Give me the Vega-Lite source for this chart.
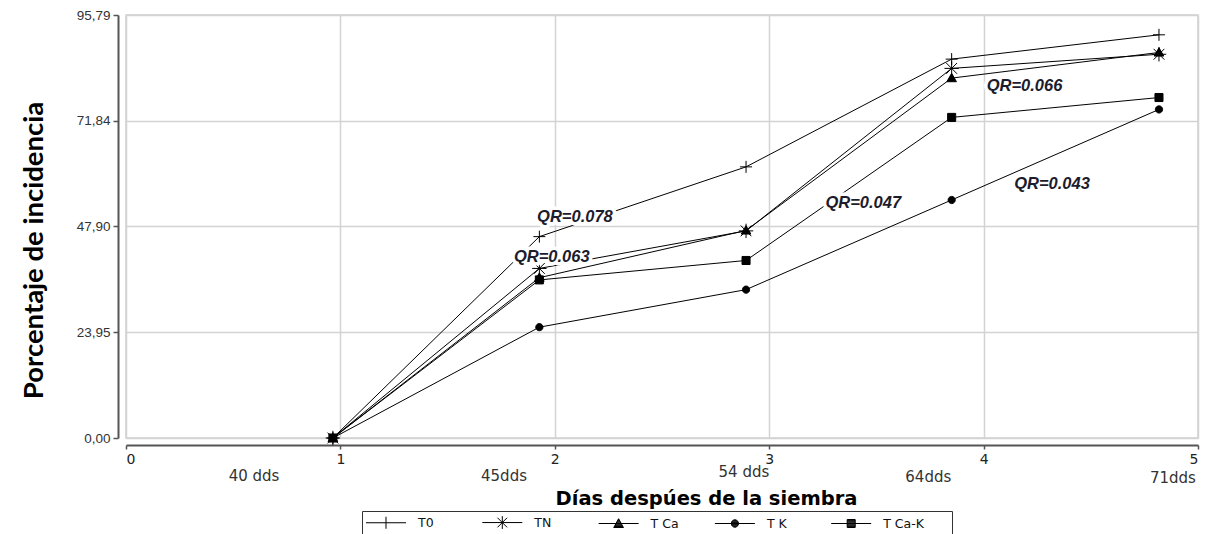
{
  "$schema": "https://vega.github.io/schema/vega-lite/v6.json",
  "width": 1072,
  "height": 423,
  "autosize": {"type": "none"},
  "padding": {"left": 126, "top": 15, "right": 7, "bottom": 96},
  "background": "white",
  "config": {"view": {"stroke": "#d0d0d0", "strokeWidth": 1.5}},
  "datasets": {
    "series": [
      {"s": "T0", "x": 0.965, "y": 0},
      {"s": "T0", "x": 1.928, "y": 45.6},
      {"s": "T0", "x": 2.892, "y": 61.4},
      {"s": "T0", "x": 3.851, "y": 85.8},
      {"s": "T0", "x": 4.818, "y": 91.3},
      {"s": "TN", "x": 0.965, "y": 0},
      {"s": "TN", "x": 1.928, "y": 38.4},
      {"s": "TN", "x": 2.892, "y": 46.9},
      {"s": "TN", "x": 3.851, "y": 83.7},
      {"s": "TN", "x": 4.818, "y": 86.9},
      {"s": "T Ca", "x": 0.965, "y": 0},
      {"s": "T Ca", "x": 1.928, "y": 36.3},
      {"s": "T Ca", "x": 2.892, "y": 47.0},
      {"s": "T Ca", "x": 3.851, "y": 81.5},
      {"s": "T Ca", "x": 4.818, "y": 87.3},
      {"s": "T K", "x": 0.965, "y": 0},
      {"s": "T K", "x": 1.928, "y": 25.1},
      {"s": "T K", "x": 2.892, "y": 33.6},
      {"s": "T K", "x": 3.851, "y": 53.9},
      {"s": "T K", "x": 4.818, "y": 74.4},
      {"s": "T Ca-K", "x": 0.965, "y": 0},
      {"s": "T Ca-K", "x": 1.928, "y": 35.8},
      {"s": "T Ca-K", "x": 2.892, "y": 40.2},
      {"s": "T Ca-K", "x": 3.851, "y": 72.6},
      {"s": "T Ca-K", "x": 4.818, "y": 77.1}
    ],
    "qr": [
      {"label": "QR=0.078", "x": 2.094, "y": 49.0},
      {"label": "QR=0.063", "x": 1.986, "y": 39.9},
      {"label": "QR=0.066", "x": 4.191, "y": 78.6},
      {"label": "QR=0.047", "x": 3.439, "y": 52.0},
      {"label": "QR=0.043", "x": 4.319, "y": 56.3}
    ],
    "dds": [
      {"label": "40 dds", "x": 0.597, "y": -9.7},
      {"label": "45dds", "x": 1.763, "y": -9.7},
      {"label": "54 dds", "x": 2.882, "y": -8.9},
      {"label": "64dds", "x": 3.742, "y": -9.9},
      {"label": "71dds", "x": 4.883, "y": -10.2}
    ]
  },
  "encoding": {
    "x": {
      "field": "x",
      "type": "quantitative",
      "scale": {"domain": [0, 5], "nice": false, "zero": false},
      "axis": {
        "values": [0, 1, 2, 3, 4, 5],
        "format": "d",
        "offset": 7,
        "domainColor": "#555555",
        "domainWidth": 2,
        "tickColor": "#555555",
        "tickWidth": 1.5,
        "tickSize": 4,
        "labelPadding": 3,
        "labelFont": "DejaVu Sans",
        "labelFontSize": 14,
        "labelColor": "#222222",
        "grid": true,
        "gridColor": "#d3d3d3",
        "gridWidth": 1.5,
        "title": "Días despúes de la siembra",
        "titleFont": "DejaVu Sans",
        "titleFontWeight": "bold",
        "titleFontSize": 19.5,
        "titleColor": "#000000",
        "titleX": 580,
        "titleY": 59,
        "titleAlign": "center",
        "titleBaseline": "alphabetic"
      }
    },
    "y": {
      "field": "y",
      "type": "quantitative",
      "scale": {"domain": [0, 95.79], "nice": false, "zero": false},
      "axis": {
        "values": [0, 23.95, 47.9, 71.84, 95.79],
        "labelExpr": "replace(format(datum.value, '.2f'), '.', ',')",
        "offset": 8,
        "domainColor": "#555555",
        "domainWidth": 2,
        "tickColor": "#555555",
        "tickWidth": 1.5,
        "tickSize": 5,
        "labelPadding": 3,
        "labelFont": "Liberation Sans",
        "labelFontSize": 13.5,
        "labelColor": "#333333",
        "grid": true,
        "gridColor": "#d3d3d3",
        "gridWidth": 1.5,
        "title": "Porcentaje de incidencia",
        "titleFont": "Lato",
        "titleFontWeight": "bold",
        "titleFontSize": 27.5,
        "titleColor": "#000000",
        "titleAngle": -90,
        "titleX": -76,
        "titleY": 235,
        "titleAlign": "center",
        "titleBaseline": "alphabetic"
      }
    }
  },
  "resolve": {"scale": {"shape": "independent"}},
  "layer": [
    {
      "data": {"name": "series"},
      "mark": {"type": "line", "color": "black", "strokeWidth": 1},
      "encoding": {"detail": {"field": "s", "type": "nominal"}}
    },
    {
      "data": {"name": "series"},
      "mark": {"type": "point", "filled": true, "color": "black", "stroke": "black", "strokeWidth": 1, "size": 144, "opacity": 1},
      "encoding": {
        "shape": {
          "field": "s",
          "type": "nominal",
          "scale": {
            "domain": ["T0", "TN", "T Ca", "T K", "T Ca-K"],
            "range": [
              "M-1,0H1M0,-1V1",
              "M0,-1.2V1.2M-0.9,-0.9L0.9,0.9M-0.9,0.9L0.9,-0.9M-1.2,0H1.2",
              "M0,-0.8L0.8,0.6L-0.8,0.6Z",
              "M0.6,0A0.6,0.6,0,1,1,-0.6,0A0.6,0.6,0,1,1,0.6,0Z",
              "M-0.67,-0.67H0.67V0.67H-0.67Z"
            ]
          },
          "legend": null
        }
      }
    },
    {
      "data": {"name": "series"},
      "mark": {"type": "point", "filled": false, "color": "black", "strokeWidth": 1, "size": 256, "opacity": 0},
      "encoding": {
        "shape": {
          "field": "s",
          "type": "nominal",
          "scale": {
            "domain": ["T0", "TN", "T Ca", "T K", "T Ca-K"],
            "range": [
              "M-2.5,0H2.5M0,-0.75V0.75",
              "M-2.5,0H2.5M0,-0.8V0.8M-0.6,-0.6L0.6,0.6M-0.6,0.6L0.6,-0.6",
              "M-2.5,0H2.5M0,-0.6L0.6,0.5L-0.6,0.5ZM-0.055,-0.5H0.055M-0.115,-0.39H0.115M-0.175,-0.28H0.175M-0.235,-0.17H0.235M-0.295,-0.06H0.295M-0.355,0.05H0.355M-0.415,0.16H0.415M-0.475,0.27H0.475M-0.535,0.38H0.535M-0.595,0.49H0.595",
              "M-2.5,0H2.5M0.45,0A0.45,0.45,0,1,1,-0.45,0A0.45,0.45,0,1,1,0.45,0ZM-0.16,-0.42H0.16M-0.306,-0.33H0.306M-0.393,-0.22H0.393M-0.436,-0.11H0.436M-0.436,0.11H0.436M-0.393,0.22H0.393M-0.306,0.33H0.306M-0.16,0.42H0.16",
              "M-2.5,0H2.5M-0.5,-0.5H0.5V0.5H-0.5ZM-0.5,-0.39H0.5M-0.5,-0.28H0.5M-0.5,-0.17H0.5M-0.5,-0.06H0.5M-0.5,0.06H0.5M-0.5,0.17H0.5M-0.5,0.28H0.5M-0.5,0.39H0.5"
            ]
          },
          "legend": {
            "title": " ",
            "titleOrient": "right",
            "titleFont": "DejaVu Sans",
            "titleFontSize": 30,
            "titlePadding": 24.8,
            "orient": "none",
            "legendX": 236,
            "legendY": 496,
            "direction": "horizontal",
            "columns": 5,
            "gridAlign": "all",
            "columnPadding": 21.3,
            "strokeColor": "#333333",
            "padding": 3,
            "symbolSize": 256,
            "symbolStrokeWidth": 1,
            "symbolOpacity": 1,
            "symbolFillColor": "black",
            "symbolStrokeColor": "black",
            "symbolOffset": 12.5,
            "labelOffset": 23.5,
            "labelFont": "DejaVu Sans",
            "labelFontSize": 12.5,
            "labelColor": "#111111"
          }
        }
      }
    },
    {
      "data": {"name": "qr"},
      "mark": {"type": "text", "font": "Liberation Sans", "fontSize": 16.5, "fontStyle": "italic", "fontWeight": "bold", "align": "center", "baseline": "alphabetic", "fill": "white", "stroke": "white", "strokeWidth": 7, "strokeJoin": "round"},
      "encoding": {"text": {"field": "label"}}
    },
    {
      "data": {"name": "qr"},
      "mark": {"type": "text", "font": "Liberation Sans", "fontSize": 16.5, "fontStyle": "italic", "fontWeight": "bold", "align": "center", "baseline": "alphabetic", "color": "#1c1c2c"},
      "encoding": {"text": {"field": "label"}}
    },
    {
      "data": {"name": "dds"},
      "mark": {"type": "text", "font": "DejaVu Sans", "fontSize": 15, "align": "center", "baseline": "alphabetic", "color": "#333333"},
      "encoding": {"text": {"field": "label"}}
    }
  ]
}
